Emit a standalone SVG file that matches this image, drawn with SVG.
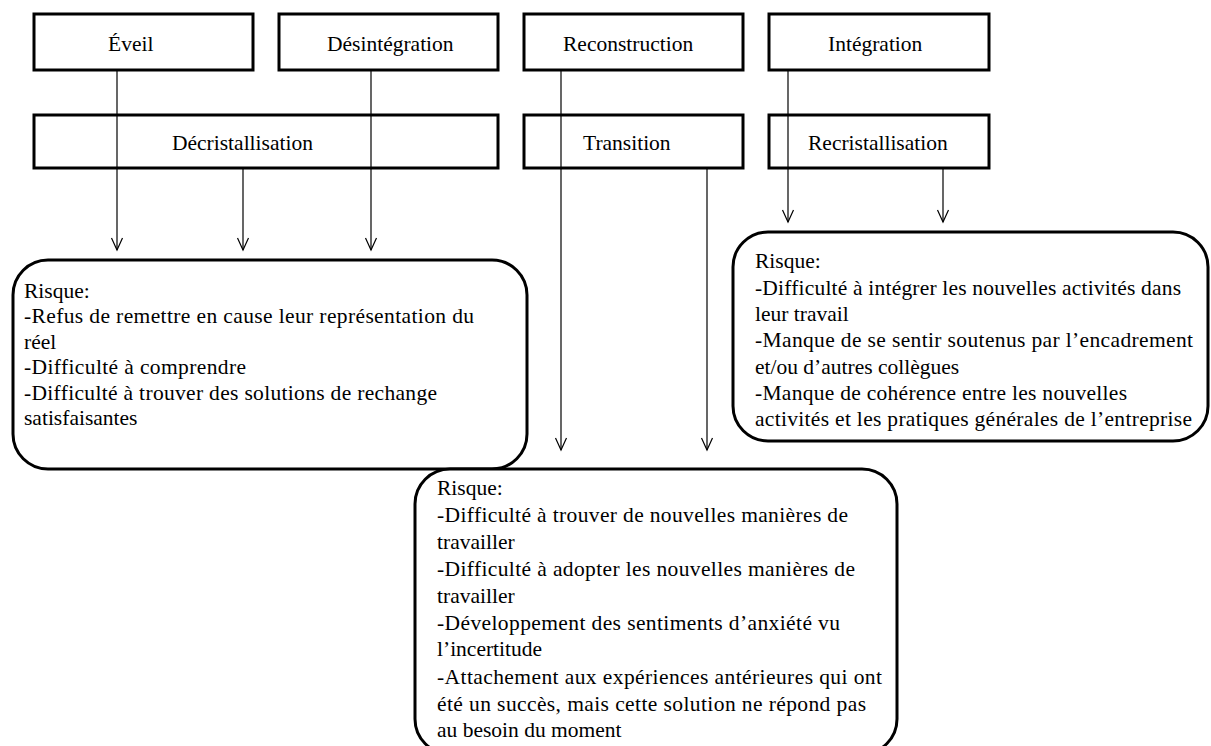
<svg xmlns="http://www.w3.org/2000/svg" width="1211" height="746" viewBox="0 0 1211 746">
<style>
.box{fill:#fff;stroke:#000;stroke-width:3}
.risk{fill:#fff;stroke:#000;stroke-width:3}
.lbl{font-family:"Liberation Serif","Times New Roman",serif;font-size:21.5px;fill:#000}
.conn{stroke:#000;stroke-width:1.2;fill:none;marker-end:url(#arr)}
</style>
<defs>
<marker id="arr" markerUnits="userSpaceOnUse" markerWidth="16" markerHeight="16" viewBox="-14 -8 16 16" refX="0" refY="0" orient="auto">
<path d="M-12,-5.5 L0,0 L-12,5.5" fill="none" stroke="#000" stroke-width="1.2"/>
</marker>
</defs>
<rect width="1211" height="746" fill="#fff"/>
<g id="eveil"><rect class="box" x="34" y="14" width="219" height="56"/><text class="lbl" x="108" y="51">Éveil</text></g>
<g id="desintegration"><rect class="box" x="279" y="14" width="219" height="56"/><text class="lbl" x="327" y="51">Désintégration</text></g>
<g id="reconstruction"><rect class="box" x="524" y="14" width="219" height="56"/><text class="lbl" x="563" y="51">Reconstruction</text></g>
<g id="integration"><rect class="box" x="769" y="14" width="220" height="56"/><text class="lbl" x="828" y="51">Intégration</text></g>
<g id="decristallisation"><rect class="box" x="34" y="115" width="464" height="53"/><text class="lbl" x="172" y="150">Décristallisation</text></g>
<g id="transition"><rect class="box" x="524" y="115" width="219" height="53"/><text class="lbl" x="583" y="150">Transition</text></g>
<g id="recristallisation"><rect class="box" x="769" y="115" width="220" height="53"/><text class="lbl" x="808" y="150">Recristallisation</text></g>
<g id="risque-gauche">
<rect class="risk" x="13" y="260" width="514" height="209" rx="35" ry="35"/>
<text class="lbl" x="24" y="298">Risque:</text>
<text class="lbl" x="24" y="323.4" textLength="450" lengthAdjust="spacing">-Refus de remettre en cause leur représentation du</text>
<text class="lbl" x="24" y="348.8">réel</text>
<text class="lbl" x="24" y="374.2" textLength="222" lengthAdjust="spacing">-Difficulté  à comprendre</text>
<text class="lbl" x="24" y="399.6" textLength="413" lengthAdjust="spacing">-Difficulté  à trouver des solutions de rechange</text>
<text class="lbl" x="24" y="425">satisfaisantes</text>
</g>
<g id="risque-droite">
<rect class="risk" x="733" y="232" width="475" height="209" rx="35" ry="35"/>
<text class="lbl" x="755" y="268">Risque:</text>
<text class="lbl" x="755" y="294.5" textLength="426" lengthAdjust="spacing">-Difficulté à intégrer les nouvelles activités dans</text>
<text class="lbl" x="755" y="321">leur travail</text>
<text class="lbl" x="755" y="347" textLength="438" lengthAdjust="spacing">-Manque de se sentir soutenus par l’encadrement</text>
<text class="lbl" x="755" y="373.5">et/ou d’autres collègues</text>
<text class="lbl" x="755" y="400" textLength="372" lengthAdjust="spacing">-Manque de cohérence entre les nouvelles</text>
<text class="lbl" x="755" y="426" textLength="437" lengthAdjust="spacing">activités et les pratiques générales de l’entreprise</text>
</g>
<g id="risque-bas">
<rect class="risk" x="415" y="469" width="482" height="285" rx="35" ry="35"/>
<text class="lbl" x="437" y="495">Risque:</text>
<text class="lbl" x="437" y="522" textLength="411" lengthAdjust="spacing">-Difficulté à trouver de nouvelles manières de</text>
<text class="lbl" x="437" y="549">travailler</text>
<text class="lbl" x="437" y="576" textLength="418" lengthAdjust="spacing">-Difficulté à adopter les nouvelles manières de</text>
<text class="lbl" x="437" y="603">travailler</text>
<text class="lbl" x="437" y="630" textLength="403" lengthAdjust="spacing">-Développement des sentiments d’anxiété vu</text>
<text class="lbl" x="437" y="656">l’incertitude</text>
<text class="lbl" x="437" y="684" textLength="445" lengthAdjust="spacing">-Attachement aux expériences antérieures qui ont</text>
<text class="lbl" x="437" y="711" textLength="429" lengthAdjust="spacing">été un succès, mais cette solution ne répond pas</text>
<text class="lbl" x="437" y="737">au besoin du moment</text>
</g>
<g id="connecteurs">
<line class="conn" x1="117" y1="70" x2="117" y2="250"/>
<line class="conn" x1="243" y1="168" x2="243" y2="250"/>
<line class="conn" x1="371" y1="70" x2="371" y2="250"/>
<line class="conn" x1="561" y1="70" x2="561" y2="450"/>
<line class="conn" x1="707" y1="168" x2="707" y2="450"/>
<line class="conn" x1="788" y1="70" x2="788" y2="222"/>
<line class="conn" x1="943" y1="168" x2="943" y2="222"/>
</g>
</svg>
